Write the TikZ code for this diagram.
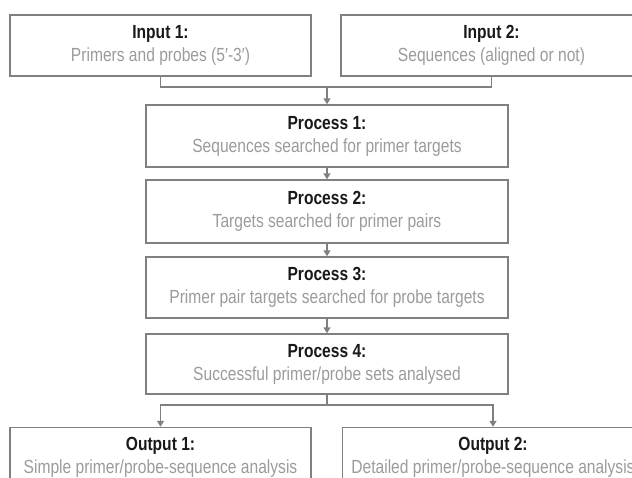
\documentclass[tikz,border=0pt]{standalone}
\usepackage{fontspec}
\setmainfont{Liberation Sans}[FakeStretch=0.82]
\usetikzlibrary{arrows.meta}
\definecolor{linegray}{RGB}{128,128,128}
\definecolor{subgray}{RGB}{155,155,155}
\definecolor{titlecol}{RGB}{25,25,25}
\begin{document}
\begin{tikzpicture}[x=1pt,y=-1pt,
  box/.style={draw=linegray, line width=1.4pt, inner sep=0pt, align=center,
    font=\fontsize{19}{23}\selectfont},
  wbox/.style={box, minimum width=301pt},
  pbox/.style={box, minimum width=362pt},
  conn/.style={draw=linegray, line width=1.4pt},
  arr/.style={conn, -{Triangle[width=7pt,length=6pt]}}]
\useasboundingbox (0,0) rectangle (632,477);
\clip (0,0) rectangle (632,477);
\node[wbox, minimum height=61pt] (in1) at (160.5,45.5) {\textcolor{titlecol}{\textbf{Input 1:}}\\\textcolor{subgray}{Primers and probes (5′-3′)}};
\node[wbox, minimum height=61pt] (in2) at (491.5,45.5) {\textcolor{titlecol}{\textbf{Input 2:}}\\\textcolor{subgray}{Sequences (aligned or not)}};
\node[pbox, minimum height=62pt] (p1) at (327,136) {\textcolor{titlecol}{\textbf{Process 1:}}\\\textcolor{subgray}{Sequences searched for primer targets}};
\node[pbox, minimum height=63pt] (p2) at (327,211.5) {\textcolor{titlecol}{\textbf{Process 2:}}\\\textcolor{subgray}{Targets searched for primer pairs}};
\node[pbox, minimum height=61pt] (p3) at (327,287.5) {\textcolor{titlecol}{\textbf{Process 3:}}\\\textcolor{subgray}{Primer pair targets searched for probe targets}};
\node[pbox, minimum height=60pt] (p4) at (327,364) {\textcolor{titlecol}{\textbf{Process 4:}}\\\textcolor{subgray}{Successful primer/probe sets analysed}};
\node[wbox, minimum height=60pt] (out1) at (160.5,457.5) {\textcolor{titlecol}{\textbf{Output 1:}}\\\textcolor{subgray}{Simple primer/probe-sequence analysis}};
\node[wbox, minimum height=60pt] (out2) at (493,457.5) {\textcolor{titlecol}{\textbf{Output 2:}}\\\textcolor{subgray}{Detailed primer/probe-sequence analysis}};
\coordinate (j1) at (327,87);
\coordinate (j2) at (327,405);
\draw[conn] (in1.south) |- (j1) -| (in2.south);
\draw[arr] (j1) -- (p1.north);
\draw[arr] (p1.south) -- (p2.north);
\draw[arr] (p2.south) -- (p3.north);
\draw[arr] (p3.south) -- (p4.north);
\draw[conn] (p4.south) -- (j2);
\draw[arr] (j2) -| (out1.north);
\draw[arr] (j2) -| (out2.north);
\end{tikzpicture}
\end{document}
